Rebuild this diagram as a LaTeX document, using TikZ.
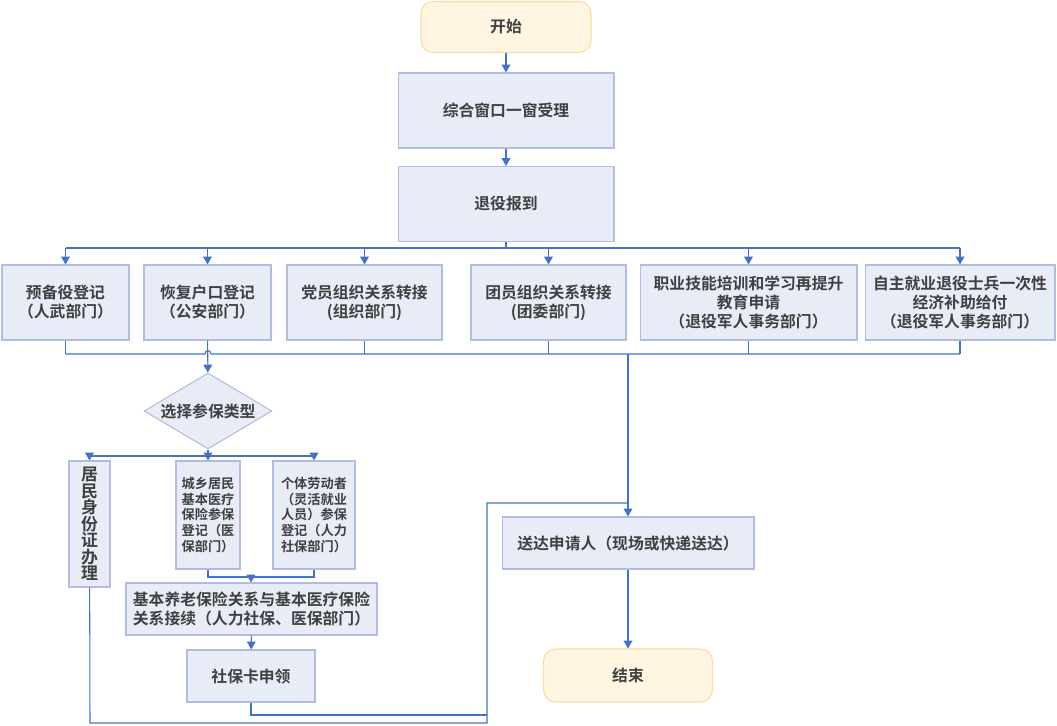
\documentclass[tikz,border=0pt]{standalone}
\usepackage{fontspec}
\setmainfont{Noto Sans CJK SC}[BoldFont={* Bold}]
\usetikzlibrary{shapes.geometric,arrows.meta}
\definecolor{flowline}{RGB}{68,114,196}
\definecolor{boxfill}{RGB}{232,236,247}
\definecolor{boxline}{RGB}{176,189,222}
\definecolor{termfill}{RGB}{255,245,224}
\definecolor{termline}{RGB}{249,220,166}
\definecolor{textgray}{RGB}{64,64,64}
\tikzset{
    procbox/.style={draw=boxline,fill=boxfill,text=textgray,align=center,inner sep=1pt,line width=0.6pt},
    termbox/.style={procbox,draw=termline,fill=termfill,rounded corners=0.24cm},
    link/.style={flowline,line width=0.6pt},
    arr/.style={link,-{Triangle[length=4.5pt,width=5pt]}},
    smalltext/.style={font=\fontsize{7.5}{8.9}\selectfont\bfseries}
}

\begin{document}
\begin{tikzpicture}[x=0.02cm,y=-0.02cm,font=\fontsize{9}{10.8}\selectfont\bfseries]
        \useasboundingbox (0,0) rectangle (1057,726);
        \pgfmathsetmacro\rowy{302.5}
        \pgfmathsetmacro\insy{515}
        % main column
        \node[termbox,minimum width=3.4cm,minimum height=1.02cm] (start) at (506,27) {开始};
        \node[procbox,minimum width=4.32cm,minimum height=1.5cm] (accept) at (506,110.5) {综合窗口一窗受理};
        \node[procbox,minimum width=4.32cm,minimum height=1.5cm] (report) at (506,204) {退役报到};
        % departments
        \node[procbox,minimum width=2.54cm,minimum height=1.5cm] (reserve) at (65.5,\rowy) {预备役登记\\（人武部门）};
        \node[procbox,minimum width=2.54cm,minimum height=1.5cm] (huji) at (207.5,\rowy) {恢复户口登记\\（公安部门）};
        \node[procbox,minimum width=3.1cm,minimum height=1.5cm] (party) at (364.5,\rowy) {党员组织关系转接\\(组织部门)};
        \node[procbox,minimum width=3.1cm,minimum height=1.5cm] (league) at (548.5,\rowy) {团员组织关系转接\\(团委部门)};
        \node[procbox,minimum width=4.34cm,minimum height=1.5cm] (skill) at (748.5,\rowy) {职业技能培训和学习再提升\\教育申请\\（退役军人事务部门）};
        \node[procbox,minimum width=3.8cm,minimum height=1.5cm] (subsidy) at (960,\rowy) {自主就业退役士兵一次性\\经济补助给付\\（退役军人事务部门）};
        % insurance branch
        \node[procbox,diamond,aspect=1.68,inner sep=0pt,minimum width=2.56cm,minimum height=1.52cm] (choose) at (208,411) {选择参保类型};
        \node[procbox,minimum width=0.82cm,minimum height=2.52cm,font=\fontsize{9.6}{9.4}\selectfont\bfseries] (idcard) at (89.5,524) {居\\民\\身\\份\\证\\办\\理};
        \node[procbox,smalltext,minimum width=1.28cm,minimum height=2.16cm] (medins) at (208,\insy) {城乡居民\\基本医疗\\保险参保\\登记（医\\保部门）};
        \node[procbox,smalltext,minimum width=1.64cm,minimum height=2.16cm] (indiv) at (314,\insy) {个体劳动者\\（灵活就业\\人员）参保\\登记（人力\\社保部门）};
        \node[procbox,align=left,minimum width=5.02cm,minimum height=1.04cm] (transfer) at (251.5,609) {基本养老保险关系与基本医疗保险\\关系接续（人力社保、医保部门）};
        \node[procbox,minimum width=2.56cm,minimum height=1.04cm] (card) at (251,676) {社保卡申领};
        % delivery
        \node[procbox,minimum width=5.04cm,minimum height=1.04cm] (deliver) at (628,543) {送达申请人（现场或快递送达）};
        \node[termbox,minimum width=3.38cm,minimum height=1.06cm] (finish) at (628,675.5) {结束};
        \coordinate (busA) at (506,248);
        \coordinate (busB) at (628,354);
        \coordinate (busC) at (208,456);
        \coordinate (busD) at (251,577);
        \coordinate (merge) at (628,503);
        \coordinate (back) at (487,503);
        \draw[arr] (start) -- (accept);
        \draw[arr] (accept) -- (report);
        \draw[link] (report) -- (busA);
        \draw[link] (reserve.north |- busA) -- (subsidy.north |- busA);
        \foreach \n in {reserve,huji,party,league,skill,subsidy}
            \draw[arr] (\n.north |- busA) -- (\n);
        \foreach \n in {reserve,party,league,skill,subsidy}
            \draw[link] (\n) -- (\n.south |- busB);
        \draw[link] (reserve.south |- busB) -- (205,354) .. controls (205,349.5) and (211,349.5) .. (211,354) -- (subsidy.south |- busB);
        \draw[arr] (busB) -- (deliver);
        \draw[arr] (huji) -- (choose);
        \draw[link] (choose) -- (busC);
        \draw[link] (idcard.north |- busC) -- (indiv.north |- busC);
        \foreach \n in {idcard,medins,indiv}
            \draw[arr] (\n.north |- busC) -- (\n);
        \draw[link] (medins) |- (busD) -| (indiv);
        \draw[arr] (busD) -- (transfer);
        \draw[arr] (transfer) -- (card);
        \draw[link] (card) |- (487,715);
        \draw[link] (idcard) -- (90,723) -| (back) -- (merge);
        \draw[arr] (deliver) -- (finish);
    \end{tikzpicture}
\end{document}
